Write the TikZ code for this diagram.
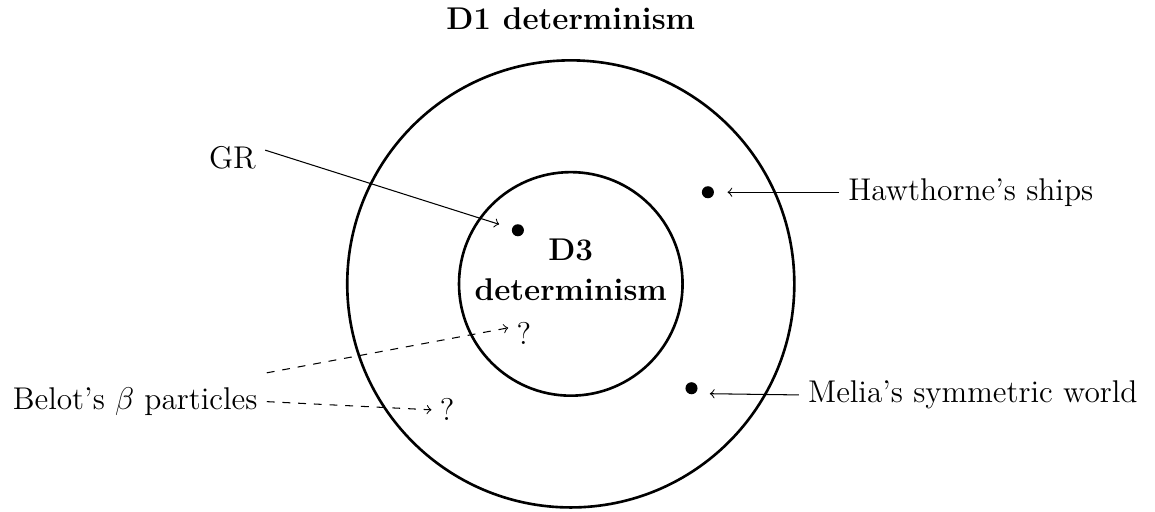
\documentclass[tikz,border=0pt]{standalone}
\usepackage{amsmath}

\begin{document}
\begin{tikzpicture}[font=\large,
  dot/.style={circle, fill=black, inner sep=0pt, minimum size=4.6pt},
  qmark/.style={inner sep=3pt}]
  \useasboundingbox (-7.66,-3.06) rectangle (7.84,3.81);

  % the two regions
  \draw[line width=1pt] (0,0) circle (3);
  \draw[line width=1pt] (0,0) circle (1.5);

  % region labels
  \node[font=\large\bfseries] (dOne) at (0,3.56) {D1 determinism};
  \node[font=\large\bfseries, align=center] (dThree) at (0,0.19) {D3\\[1pt] determinism};

  % models
  \node[dot] (grDot) at (-0.71,0.72) {};
  \node[dot] (shipDot) at (1.84,1.23) {};
  \node[dot] (meliaDot) at (1.62,-1.40) {};
  \node[qmark] (qIn) at (-0.63,-0.66) {?};
  \node[qmark] (qOut) at (-1.66,-1.69) {?};

  % names
  \node (gr) at (-4.54,1.69) {GR};
  \node[anchor=west] (ships) at (3.60,1.23) {Hawthorne's ships};
  \node[anchor=west] (melia) at (3.06,-1.49) {Melia's symmetric world};
  \node[anchor=east] (belot) at (-4.08,-1.58) {Belot's $\beta$ particles};

  % pointers
  \draw[->, shorten >=5pt] ([yshift=3pt]gr.east) -- (grDot);
  \draw[->, shorten >=5pt] (ships.west) -- (shipDot);
  \draw[->, shorten >=7pt] (melia.west) -- ([yshift=-2pt]meliaDot.center);
  \draw[->, dashed] ([yshift=11pt]belot.east) -- ([yshift=2pt]qIn.west);
  \draw[->, dashed] (belot.east) -- (qOut.west);
\end{tikzpicture}
\end{document}
